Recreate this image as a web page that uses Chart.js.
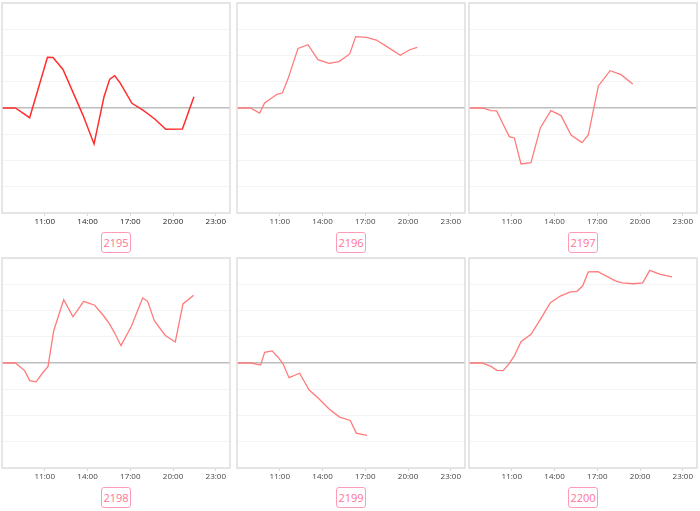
<!DOCTYPE html>
<html>
<head>
<meta charset="utf-8">
<script src="https://cdn.jsdelivr.net/npm/chart.js@4/dist/chart.umd.min.js"></script>
<style>
  body { margin: 0; background: #fff; width: 700px; height: 511px; position: relative; overflow: hidden; }
  canvas { position: absolute; }
  .tag {
    position: absolute; width: 28px; height: 19px; line-height: 19px;
    border: 1px solid #ff9bb6; border-radius: 3px; text-align: center;
    font-family: "Open Sans", sans-serif; font-size: 11px; color: #ff7393; background: #fff;
  }
</style>
</head>
<body>
<script>
// hours of day (x) and values (y) for each unit
const hours2195 = [8.0, 8.94, 9.94, 11.19, 11.58, 12.28, 13.68, 14.46, 15.16, 15.56, 15.91, 16.31, 17.12, 17.89, 18.72, 19.49, 20.66, 21.47];
const vals2195  = [0, 0, -0.37, 1.93, 1.92, 1.47, -0.27, -1.37, 0.43, 1.10, 1.23, 0.94, 0.18, -0.08, -0.42, -0.81, -0.80, 0.43];

const hours2196 = [8.0, 8.94, 9.59, 9.94, 10.83, 11.18, 11.58, 12.28, 12.98, 13.68, 14.46, 15.16, 15.91, 16.33, 17.08, 17.78, 18.60, 19.46, 20.12, 20.65];
const vals2196  = [0, 0, -0.19, 0.19, 0.53, 0.57, 1.11, 2.27, 2.41, 1.84, 1.70, 1.77, 2.06, 2.72, 2.69, 2.59, 2.31, 2.01, 2.22, 2.31];

const hours2197 = [8.0, 8.96, 9.54, 9.94, 10.36, 10.83, 11.18, 11.65, 12.35, 13.01, 13.75, 14.46, 15.16, 15.93, 16.37, 17.08, 17.90, 18.67, 19.49];
const vals2197  = [0, 0, -0.10, -0.11, -0.58, -1.09, -1.14, -2.13, -2.08, -0.75, -0.10, -0.29, -1.03, -1.32, -1.03, 0.84, 1.42, 1.27, 0.91];

const hours2198 = [8.0, 8.94, 9.59, 9.94, 10.39, 10.81, 11.23, 11.63, 12.33, 12.98, 13.73, 14.50, 15.13, 15.53, 15.91, 16.35, 17.08, 17.87, 18.22, 18.69, 19.46, 20.16, 20.70, 21.45];
const vals2198  = [0, 0, -0.29, -0.67, -0.72, -0.41, -0.13, 1.23, 2.41, 1.76, 2.35, 2.20, 1.80, 1.50, 1.14, 0.66, 1.40, 2.48, 2.35, 1.61, 1.05, 0.80, 2.25, 2.58];

const hours2199 = [8.0, 9.0, 9.66, 9.94, 10.46, 10.88, 11.23, 11.65, 12.40, 13.05, 13.75, 14.46, 15.20, 15.95, 16.37, 17.12];
const vals2199  = [0, 0, -0.08, 0.41, 0.46, 0.22, -0.03, -0.56, -0.39, -1.02, -1.36, -1.75, -2.06, -2.19, -2.67, -2.76];

const hours2200 = [8.0, 8.91, 9.54, 9.96, 10.39, 10.78, 11.18, 11.65, 12.35, 13.01, 13.71, 14.41, 15.11, 15.58, 15.98, 16.37, 17.05, 18.27, 18.74, 19.56, 20.19, 20.68, 21.43, 22.25];
const vals2200  = [0, 0, -0.13, -0.28, -0.29, -0.05, 0.27, 0.81, 1.09, 1.66, 2.30, 2.55, 2.71, 2.73, 2.94, 3.47, 3.48, 3.13, 3.05, 3.02, 3.05, 3.53, 3.38, 3.28];

const xTicks = [11, 14, 17, 20, 23];

const panels = [
  { name: '2195', hours: hours2195, vals: vals2195, left: 2,   top: 3,   color: '#ff2e2e', width: 1.5, tickColor: '#222' },
  { name: '2196', hours: hours2196, vals: vals2196, left: 237, top: 3,   color: '#ff7b7b', width: 1.3, tickColor: '#444' },
  { name: '2197', hours: hours2197, vals: vals2197, left: 469, top: 3,   color: '#ff7b7b', width: 1.3, tickColor: '#444' },
  { name: '2198', hours: hours2198, vals: vals2198, left: 2,   top: 258, color: '#ff7b7b', width: 1.3, tickColor: '#444' },
  { name: '2199', hours: hours2199, vals: vals2199, left: 237, top: 258, color: '#ff7b7b', width: 1.3, tickColor: '#444' },
  { name: '2200', hours: hours2200, vals: vals2200, left: 469, top: 258, color: '#ff7b7b', width: 1.3, tickColor: '#444' }
];

// draw the full frame round the plot area
const frame = {
  id: 'frame',
  afterDraw(chart) {
    const a = chart.chartArea, ctx = chart.ctx;
    ctx.save();
    ctx.strokeStyle = '#dedede';
    ctx.lineWidth = 1.5;
    ctx.strokeRect(a.left, a.top, a.right - a.left, a.bottom - a.top);
    ctx.restore();
  }
};

panels.forEach(p => {
  const cv = document.createElement('canvas');
  cv.width = 232; cv.height = 228;
  cv.style.left = (p.left - 2) + 'px';
  cv.style.top = (p.top - 3) + 'px';
  document.body.appendChild(cv);

  const tag = document.createElement('div');
  tag.className = 'tag';
  tag.textContent = p.name;
  tag.style.left = (p.left + 114 - 15) + 'px';
  tag.style.top = (p.top + 229) + 'px';
  document.body.appendChild(tag);

  new Chart(cv, {
    type: 'line',
    data: {
      datasets: [{
        data: p.hours.map((h, i) => ({ x: h, y: p.vals[i] })),
        borderColor: p.color,
        borderWidth: p.width,
        pointRadius: 0,
        tension: 0,
        fill: false
      }]
    },
    options: {
      responsive: false,
      animation: false,
      layout: { padding: { left: 2, right: 2, top: 3, bottom: 0 } },
      plugins: { legend: { display: false }, tooltip: { enabled: false } },
      scales: {
        x: {
          type: 'linear', min: 8, max: 24,
          afterBuildTicks: s => { s.ticks = xTicks.map(v => ({ value: v })); },
          afterFit: s => { s.height = 15; },
          border: { display: false },
          grid: { drawOnChartArea: false, drawTicks: true, tickLength: 3, color: '#d8d8d8' },
          ticks: {
            autoSkip: false, maxRotation: 0, padding: 1,
            color: p.tickColor, font: { family: 'Open Sans', size: 8 },
            callback: v => v + ':00'
          }
        },
        y: {
          min: -4, max: 4,
          afterFit: s => { s.width = 0; },
          border: { display: false },
          ticks: { display: false, stepSize: 1 },
          grid: {
            drawTicks: false,
            color: c => c.tick.value === 0 ? '#bdbdbd' : '#f3f3f3',
            lineWidth: c => c.tick.value === 0 ? 1.5 : 1
          }
        }
      }
    },
    plugins: [frame]
  });
});
</script>
</body>
</html>
